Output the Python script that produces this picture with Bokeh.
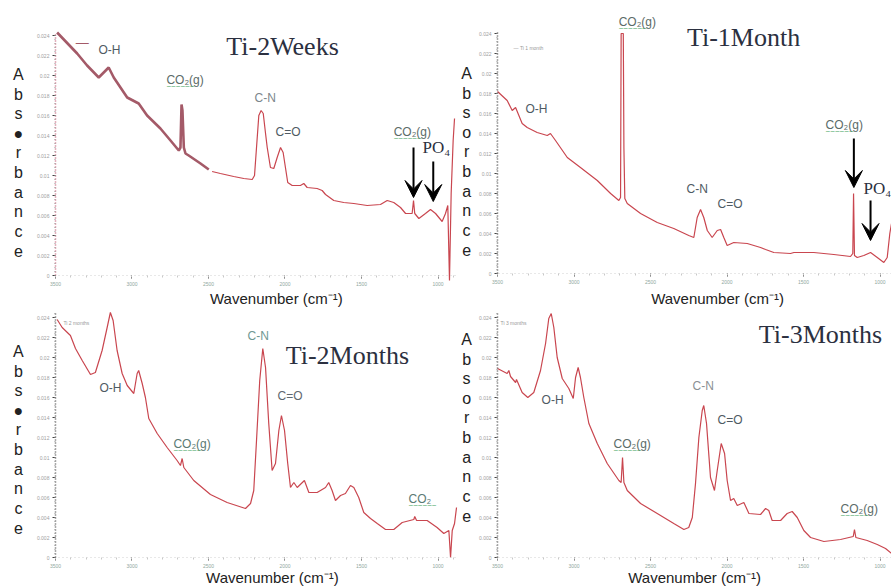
from bokeh.plotting import figure
from bokeh.layouts import column, row
from bokeh.models import Range1d, Label, Arrow, VeeHead, SingleIntervalTicker
from bokeh.embed import file_html
from bokeh.resources import INLINE

# ---- FTIR spectra: wavenumber (cm-1) and absorbance ----
# Ti-2Weeks: early (thick) segment and the rest of the scan
w2w_a = [3489, 3358, 3293, 3217, 3152, 3119, 3075, 3031, 2956, 2901, 2814, 2748, 2694,
         2683, 2676, 2670, 2661, 2650, 2629, 2552, 2498]
a2w_a = [0.0243, 0.0222, 0.0210, 0.0198, 0.0208, 0.0198, 0.0188, 0.0178, 0.0172, 0.0160,
         0.0147, 0.0135, 0.0125, 0.0128, 0.0171, 0.0165, 0.0128, 0.0122, 0.0120, 0.0112, 0.0106]
w2w_b = [2476, 2422, 2335, 2269, 2214, 2199, 2186, 2171, 2156, 2142, 2127, 2116, 2095, 2073,
         2051, 2029, 2012, 1997, 1982, 1953, 1899, 1877, 1855, 1790, 1757, 1735, 1681, 1616,
         1550, 1463, 1376, 1332, 1289, 1245, 1212, 1169, 1160, 1152, 1125, 1082, 1049, 1016,
         973, 951, 936, 925, 914, 901, 892]
a2w_b = [0.0104, 0.0102, 0.0099, 0.0097, 0.0096, 0.0100, 0.0128, 0.0160, 0.0165, 0.0162,
         0.0142, 0.0128, 0.0108, 0.0107, 0.0118, 0.0128, 0.0123, 0.0108, 0.0093, 0.0090,
         0.0090, 0.0092, 0.0088, 0.0087, 0.0085, 0.0081, 0.0075, 0.0073, 0.0072, 0.0070,
         0.0071, 0.0075, 0.0073, 0.0068, 0.0062, 0.0062, 0.0075, 0.0062, 0.0057, 0.0062,
         0.0066, 0.0062, 0.0054, 0.0062, 0.0070, -0.0005, 0.0082, 0.0135, 0.0157]

# Ti-1Month
w1m = [3500, 3437, 3404, 3382, 3339, 3306, 3241, 3175, 3154, 3121, 3044, 2958, 2848, 2761,
       2707, 2696, 2692, 2678, 2674, 2668, 2652, 2565, 2456, 2348, 2250, 2217, 2195, 2173,
       2152, 2129, 2097, 2064, 2042, 2021, 1999, 1956, 1868, 1781, 1748, 1694, 1585, 1563,
       1433, 1302, 1193, 1178, 1173, 1167, 1149, 1106, 1062, 1018, 975, 953, 936, 925]
a1m = [0.0182, 0.0173, 0.0163, 0.0166, 0.0150, 0.0146, 0.0141, 0.0138, 0.0140, 0.0133,
       0.0116, 0.0106, 0.0093, 0.0080, 0.0073, 0.0076, 0.0240, 0.0240, 0.0126, 0.0075,
       0.0070, 0.0060, 0.0051, 0.0045, 0.0038, 0.0036, 0.0056, 0.0064, 0.0056, 0.0043,
       0.0036, 0.0043, 0.0044, 0.0036, 0.0028, 0.0031, 0.0030, 0.0026, 0.0024, 0.0021,
       0.0020, 0.0021, 0.0021, 0.0019, 0.0017, 0.0020, 0.0080, 0.0018, 0.0016, 0.0018,
       0.0021, 0.0016, 0.0011, 0.0016, 0.0040, 0.0050]

# Ti-2Months
w2m = [3489, 3456, 3402, 3369, 3325, 3271, 3239, 3195, 3162, 3141, 3123, 3097, 3064, 3031,
       2988, 2966, 2956, 2933, 2912, 2890, 2835, 2770, 2705, 2683, 2672, 2661, 2596, 2487,
       2378, 2258, 2225, 2204, 2186, 2165, 2145, 2127, 2106, 2084, 2062, 2040, 2023, 2003,
       1982, 1964, 1942, 1920, 1873, 1844, 1790, 1735, 1714, 1692, 1670, 1637, 1605, 1572,
       1550, 1518, 1485, 1441, 1397, 1343, 1289, 1234, 1158, 1152, 1140, 1071, 1006, 962,
       929, 918, 907, 892, 879]
a2m = [0.0238, 0.0230, 0.0222, 0.0209, 0.0197, 0.0183, 0.0185, 0.0207, 0.0230, 0.0245,
       0.0237, 0.0207, 0.0184, 0.0172, 0.0164, 0.0184, 0.0187, 0.0174, 0.0160, 0.0139,
       0.0124, 0.0110, 0.0097, 0.0092, 0.0099, 0.0090, 0.0077, 0.0063, 0.0055, 0.0049,
       0.0054, 0.0067, 0.0117, 0.0177, 0.0209, 0.0190, 0.0134, 0.0087, 0.0094, 0.0127,
       0.0142, 0.0127, 0.0094, 0.0070, 0.0075, 0.0070, 0.0077, 0.0065, 0.0065, 0.0070,
       0.0075, 0.0067, 0.0057, 0.0062, 0.0064, 0.0072, 0.0070, 0.0060, 0.0045, 0.0039,
       0.0034, 0.0028, 0.0028, 0.0035, 0.0038, 0.0041, 0.0037, 0.0037, 0.0030, 0.0024,
       0.0027, 0.0000, 0.0027, 0.0034, 0.0050]

# Ti-3Months
w3m = [3500, 3437, 3426, 3415, 3382, 3376, 3339, 3302, 3263, 3219, 3186, 3165, 3149, 3132,
       3110, 3077, 3034, 3005, 2990, 2973, 2958, 2936, 2903, 2848, 2783, 2707, 2692, 2683,
       2674, 2652, 2565, 2456, 2348, 2282, 2250, 2227, 2206, 2184, 2162, 2152, 2134, 2108,
       2082, 2064, 2038, 2016, 1999, 1977, 1956, 1933, 1890, 1857, 1781, 1748, 1727, 1705,
       1650, 1607, 1574, 1541, 1498, 1454, 1367, 1258, 1175, 1167, 1158, 1084, 1018, 964, 925]
a3m = [0.0189, 0.0184, 0.0187, 0.0181, 0.0175, 0.0178, 0.0165, 0.0160, 0.0165, 0.0187,
       0.0214, 0.0239, 0.0244, 0.0230, 0.0200, 0.0179, 0.0169, 0.0159, 0.0180, 0.0190,
       0.0180, 0.0160, 0.0134, 0.0114, 0.0094, 0.0077, 0.0075, 0.0100, 0.0075, 0.0067,
       0.0054, 0.0044, 0.0034, 0.0028, 0.0030, 0.0040, 0.0074, 0.0120, 0.0147, 0.0152,
       0.0134, 0.0080, 0.0067, 0.0087, 0.0114, 0.0104, 0.0077, 0.0057, 0.0059, 0.0052,
       0.0055, 0.0044, 0.0043, 0.0049, 0.0047, 0.0037, 0.0037, 0.0044, 0.0046, 0.0040,
       0.0027, 0.0020, 0.0016, 0.0018, 0.0021, 0.0028, 0.0020, 0.0017, 0.0013, 0.0009, 0.0004]

RED = "#c9464f"
MAUVE = "#a45a68"
SANS = "Liberation Sans"
SERIF = "Liberation Serif"
ABS_LETTERS = ["A", "b", "s", "\u25cf", "r", "b", "a", "n", "c", "e"]
ABS_LETTERS_O = ["A", "b", "s", "o", "r", "b", "a", "n", "c", "e"]
WAVENUMBER = "Wavenumber (cm\u207b\u00b9)"


def panel(width, height, x_view, y_view, x_axis, y_axis, axis_color):
    """Spectrum panel whose axes sit inside the canvas, so the side texts
    (stacked y title, wavenumber caption) can be placed in data space."""
    p = figure(width=width, height=height, x_range=Range1d(*x_view),
               y_range=Range1d(*y_view), output_backend="svg", toolbar_location=None,
               min_border=0, background_fill_color="white",
               border_fill_color="white", outline_line_color=None)
    p.grid.visible = False
    xa = p.xaxis[0]
    xa.fixed_location = y_axis[0]
    xa.bounds = x_axis
    xa.ticker = SingleIntervalTicker(interval=500, num_minor_ticks=5)
    xa.axis_line_color = "#d0d0d0"
    xa.axis_line_dash = "1 3"
    xa.major_tick_line_color = "#555555"
    xa.major_tick_in = 0
    xa.major_tick_out = 3
    xa.minor_tick_line_color = "#c8c8c8"
    xa.minor_tick_in = 0
    xa.minor_tick_out = 2
    xa.major_label_text_font_size = "5px"
    xa.major_label_text_color = "#8fa8a0"
    xa.major_label_standoff = 3
    ya = p.yaxis[0]
    ya.fixed_location = x_axis[0]
    ya.bounds = y_axis
    ya.ticker = SingleIntervalTicker(interval=0.002, num_minor_ticks=5)
    ya.axis_line_color = axis_color
    ya.axis_line_dash = "1 2"
    ya.axis_line_width = 1.5
    ya.major_tick_line_color = "#444444"
    ya.major_tick_in = 0
    ya.major_tick_out = 3
    ya.minor_tick_line_color = "#999999"
    ya.minor_tick_in = 0
    ya.minor_tick_out = 1
    ya.major_label_text_font_size = "5px"
    ya.major_label_text_color = "#a0a0a0"
    ya.major_label_standoff = 3
    return p


def txt(p, x, y, s, size="12px", color="#4f5a63", font=SANS, align="left",
        baseline="middle"):
    p.add_layout(Label(x=x, y=y, text=s, text_font=font, text_font_size=size,
                       text_color=color, text_align=align, text_baseline=baseline))


def co2(p, x, y, s="CO\u2082(g)", color="#5b6b68"):
    # gas-phase CO2 tag with the green wavy underline
    txt(p, x, y, s, color=color)
    txt(p, x, y - 0.0007, "~~~~~~", size="8px", color="#3e9f5c")


def stacked(p, x, y_first, letters, step=0.00196):
    # vertical "Absorbance" title, one letter per line
    for k, ch in enumerate(letters):
        txt(p, x, y_first - k * step, ch, size="16px", color="#222222", align="center")


def arrow(p, x, y0, y1):
    p.add_layout(Arrow(end=VeeHead(size=17, fill_color="black", line_color="black"),
                       x_start=x, y_start=y0, x_end=x, y_end=y1,
                       line_color="black", line_width=2))


TITLE = dict(size="26px", color="#2b3040", font=SERIF, align="center")
AXIS_X = dict(size="15px", color="#222222", align="center")

# ---- Ti-2Weeks ----
p1 = panel(460, 310, (3859, 853), (-0.0035, 0.0275), (3500, 886), (0, 0.0243), "#c8607a")
p1.line(w2w_a, a2w_a, line_color=MAUVE, line_width=2.6)
p1.line(w2w_b, a2w_b, line_color=RED, line_width=1.2)
txt(p1, 2016, 0.0229, "Ti-2Weeks", **TITLE)
txt(p1, 3324, 0.0233, "\u2014", size="13px", color=MAUVE, align="center")
txt(p1, 3219, 0.0226, "O-H")
co2(p1, 2775, 0.0196)
txt(p1, 2199, 0.0178, "C-N", color="#7c868c")
txt(p1, 2062, 0.0144, "C=O")
co2(p1, 1290, 0.0144)
txt(p1, 1101, 0.0128, "PO\u2084", size="17px", color="#2b3040", font=SERIF)
arrow(p1, 1160, 0.0128, 0.0078)
arrow(p1, 1031, 0.0114, 0.0074)
stacked(p1, 3742, 0.0201, ABS_LETTERS)
txt(p1, 2056, -0.0023, WAVENUMBER, **AXIS_X)

# ---- Ti-1Month ----
p2 = panel(431, 310, (3742, 925), (-0.0037, 0.0273), (3500, 925), (0, 0.0243), "#555555")
p2.line(w1m, a1m, line_color=RED, line_width=1.2)
txt(p2, 1892, 0.0236, "Ti-1Month", **TITLE)
txt(p2, 3395, 0.0226, "\u2014 Ti 1 month", size="5px", color="#999999")
co2(p2, 2708, 0.0252)
txt(p2, 3317, 0.0165, "O-H")
txt(p2, 2265, 0.0085, "C-N")
txt(p2, 2062, 0.0070, "C=O")
co2(p2, 1356, 0.0149)
txt(p2, 1108, 0.0085, "PO\u2084", size="17px", color="#2b3040", font=SERIF)
arrow(p2, 1171, 0.0135, 0.0086)
arrow(p2, 1062, 0.0073, 0.0033)
stacked(p2, 3702, 0.0200, ABS_LETTERS_O)
txt(p2, 2062, -0.0025, WAVENUMBER, **AXIS_X)

# ---- Ti-2Months ----
p3 = panel(460, 276, (3859, 853), (-0.0029, 0.0247), (3500, 886), (0, 0.0246), "#555555")
p3.line(w2m, a2m, line_color=RED, line_width=1.2)
txt(p3, 1592, 0.0202, "Ti-2Months", **TITLE)
txt(p3, 3448, 0.0235, "Ti 2 months", size="5px", color="#999999")
txt(p3, 2245, 0.0222, "C-N", color="#6f9893")
txt(p3, 2049, 0.0162, "C=O", color="#5f6870")
txt(p3, 3212, 0.0170, "O-H")
co2(p3, 2729, 0.0114, color="#5b7a74")
co2(p3, 1193, 0.0059, s="CO\u2082", color="#5b7a74")
stacked(p3, 3742, 0.0206, ABS_LETTERS)
txt(p3, 2082, -0.0020, WAVENUMBER, **AXIS_X)

# ---- Ti-3Months ----
p4 = panel(431, 276, (3742, 925), (-0.0029, 0.0247), (3500, 925), (0, 0.0246), "#555555")
p4.line(w3m, a3m, line_color=RED, line_width=1.2)
txt(p4, 1389, 0.0223, "Ti-3Months", **TITLE)
txt(p4, 3480, 0.0235, "Ti 3 months", size="5px", color="#999999")
txt(p4, 2225, 0.0172, "C-N", color="#8a9094")
txt(p4, 2062, 0.0138, "C=O")
txt(p4, 3212, 0.0158, "O-H")
co2(p4, 2742, 0.0114)
co2(p4, 1258, 0.0049)
stacked(p4, 3702, 0.0218, ABS_LETTERS_O)
txt(p4, 2212, -0.0020, WAVENUMBER, **AXIS_X)

layout = column(row(p1, p2, spacing=0), row(p3, p4, spacing=0), spacing=0)
open("out.html", "w").write(file_html(layout, INLINE))
